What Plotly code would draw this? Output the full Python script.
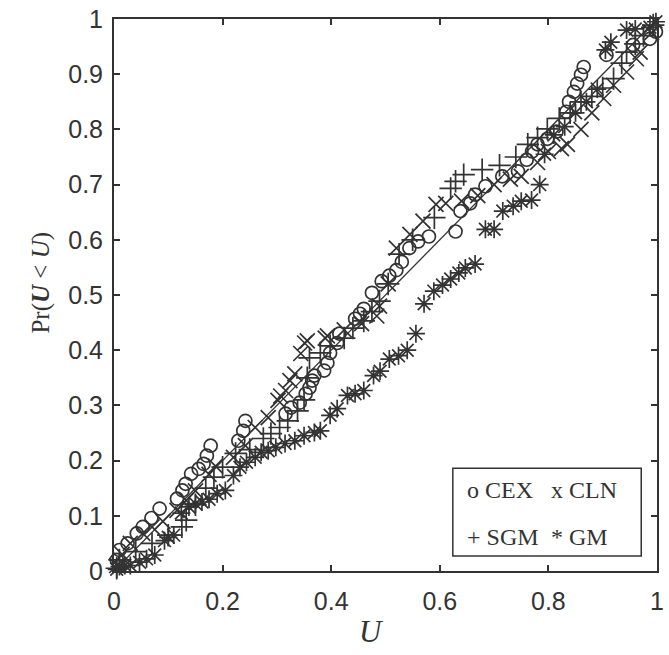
import plotly.graph_objects as go

# CEX (circles)
cex_x = [0.005, 0.01, 0.025, 0.042, 0.053, 0.069, 0.084, 0.116, 0.126, 0.132, 0.142, 0.156, 0.165, 0.171, 0.178,
         0.229, 0.238, 0.242, 0.316, 0.326, 0.342, 0.353, 0.36, 0.365, 0.369, 0.387, 0.393, 0.398, 0.411, 0.415,
         0.444, 0.453, 0.46, 0.475, 0.493, 0.507, 0.52, 0.53, 0.544, 0.56, 0.58, 0.629, 0.638, 0.656, 0.665, 0.684,
         0.715, 0.744, 0.76, 0.77, 0.78, 0.798, 0.815, 0.833, 0.838, 0.847, 0.853, 0.86, 0.865, 0.907, 0.956, 0.987, 0.998]
cex_y = [0.02, 0.038, 0.05, 0.068, 0.08, 0.096, 0.113, 0.131, 0.146, 0.158, 0.176, 0.185, 0.194, 0.209, 0.227,
         0.236, 0.254, 0.272, 0.285, 0.296, 0.305, 0.321, 0.332, 0.345, 0.354, 0.363, 0.377, 0.395, 0.413, 0.43,
         0.457, 0.466, 0.475, 0.504, 0.525, 0.535, 0.545, 0.56, 0.585, 0.597, 0.606, 0.615, 0.652, 0.666, 0.682, 0.697,
         0.715, 0.724, 0.745, 0.76, 0.773, 0.783, 0.796, 0.832, 0.85, 0.868, 0.883, 0.899, 0.913, 0.935, 0.953, 0.964, 0.977]

# CLN (x)
cln_x = [0.005, 0.015, 0.03, 0.053, 0.07, 0.09, 0.116, 0.133, 0.15, 0.175, 0.187, 0.22, 0.242, 0.26, 0.284, 0.302,
         0.307, 0.316, 0.324, 0.333, 0.344, 0.351, 0.356, 0.389, 0.393, 0.424, 0.456, 0.484, 0.489, 0.505, 0.52,
         0.545, 0.569, 0.593, 0.611, 0.64, 0.67, 0.70, 0.73, 0.75, 0.78, 0.80, 0.824, 0.835, 0.86, 0.88, 0.902,
         0.92, 0.944, 0.962, 0.969, 0.99]
cln_y = [0.01, 0.03, 0.05, 0.068, 0.08, 0.09, 0.11, 0.128, 0.145, 0.175, 0.19, 0.206, 0.227, 0.26, 0.278, 0.309,
         0.317, 0.327, 0.345, 0.357, 0.394, 0.413, 0.417, 0.422, 0.426, 0.437, 0.448, 0.462, 0.48, 0.52, 0.585,
         0.61, 0.634, 0.664, 0.666, 0.67, 0.68, 0.70, 0.71, 0.715, 0.74, 0.76, 0.765, 0.773, 0.80, 0.83, 0.856,
         0.88, 0.904, 0.928, 0.94, 0.975]

# SGM (+)
sgm_x = [0.005, 0.01, 0.04, 0.07, 0.1, 0.125, 0.133, 0.15, 0.169, 0.184, 0.2, 0.224, 0.25, 0.275, 0.289, 0.305,
         0.32, 0.338, 0.35, 0.356, 0.36, 0.38, 0.398, 0.424, 0.44, 0.46, 0.475, 0.489, 0.505, 0.525, 0.55, 0.59,
         0.62, 0.629, 0.644, 0.678, 0.71, 0.74, 0.762, 0.78, 0.798, 0.82, 0.84, 0.86, 0.88, 0.9, 0.92, 0.935,
         0.944, 0.96, 0.975, 0.993]
sgm_y = [0.005, 0.02, 0.035, 0.05, 0.065, 0.08, 0.092, 0.12, 0.15, 0.17, 0.188, 0.213, 0.22, 0.24, 0.249, 0.26,
         0.272, 0.29, 0.31, 0.35, 0.386, 0.395, 0.408, 0.422, 0.44, 0.453, 0.47, 0.489, 0.52, 0.574, 0.6, 0.64,
         0.693, 0.706, 0.718, 0.727, 0.735, 0.75, 0.773, 0.785, 0.801, 0.82, 0.83, 0.85, 0.86, 0.875, 0.892, 0.92,
         0.94, 0.955, 0.97, 0.989]

# GM (*)
gm_x = [0.005, 0.01, 0.02, 0.03, 0.047, 0.06, 0.075, 0.093, 0.1, 0.11, 0.124, 0.138, 0.15, 0.162, 0.175, 0.19,
        0.205, 0.22, 0.232, 0.244, 0.26, 0.271, 0.284, 0.298, 0.315, 0.333, 0.35, 0.369, 0.38, 0.398, 0.411, 0.43,
        0.444, 0.46, 0.478, 0.49, 0.507, 0.524, 0.54, 0.556, 0.571, 0.589, 0.605, 0.62, 0.635, 0.647, 0.665, 0.684,
        0.70, 0.716, 0.735, 0.75, 0.769, 0.784, 0.793, 0.81, 0.83, 0.85, 0.87, 0.89, 0.905, 0.915, 0.944, 0.96,
        0.987, 0.998]
gm_y = [0.003, 0.008, 0.01, 0.01, 0.016, 0.022, 0.029, 0.055, 0.061, 0.065, 0.105, 0.116, 0.122, 0.125, 0.13, 0.14,
        0.146, 0.173, 0.188, 0.197, 0.206, 0.215, 0.218, 0.224, 0.231, 0.236, 0.245, 0.251, 0.254, 0.282, 0.294, 0.318,
        0.321, 0.327, 0.354, 0.362, 0.384, 0.39, 0.40, 0.43, 0.484, 0.507, 0.518, 0.529, 0.54, 0.549, 0.556, 0.619,
        0.619, 0.652, 0.661, 0.67, 0.672, 0.70, 0.755, 0.79, 0.805, 0.83, 0.85, 0.873, 0.944, 0.958, 0.98, 0.982,
        0.985, 0.995]

ref_line = [0, 1]
x_ticks = [0, 0.2, 0.4, 0.6, 0.8, 1]
x_tick_text = ["0", "0.2", "0.4", "0.6", "0.8", "1"]
y_ticks = [0, 0.1, 0.2, 0.3, 0.4, 0.5, 0.6, 0.7, 0.8, 0.9, 1]
y_tick_text = ["0", "0.1", "0.2", "0.3", "0.4", "0.5", "0.6", "0.7", "0.8", "0.9", "1"]
legend_rows = [["o CEX", "x CLN"], ["+ SGM", "* GM"]]

INK = "#333333"
SERIF = "Liberation Serif, Times New Roman, serif"

fig = go.Figure()
fig.add_trace(go.Scatter(x=ref_line, y=ref_line, mode="lines", line=dict(color=INK, width=1.3),
                         showlegend=False, cliponaxis=False))

def add_series(xs, ys, symbol, size, name):
    fig.add_trace(go.Scatter(
        x=xs, y=ys, mode="markers", name=name, showlegend=False, cliponaxis=False,
        marker=dict(symbol=symbol, size=size, color=INK, line=dict(color=INK, width=1.7)),
    ))

add_series(cex_x, cex_y, "circle-open", 13, "CEX")
add_series(cln_x, cln_y, "x-thin-open", 15, "CLN")
add_series(sgm_x, sgm_y, "cross-thin-open", 16, "SGM")
add_series(gm_x, gm_y, "asterisk-open", 15, "GM")

axis_common = dict(
    range=[0, 1], showgrid=False, zeroline=False, showline=True, linecolor=INK, linewidth=2,
    mirror="ticks", ticks="inside", ticklen=6, tickwidth=1.5, tickcolor=INK,
    tickfont=dict(family="Liberation Sans, Arial, sans-serif", size=25, color=INK),
)

fig.update_layout(
    width=669, height=655,
    margin=dict(l=114, r=5, t=17, b=84),
    paper_bgcolor="white", plot_bgcolor="white",
    xaxis=dict(**axis_common, tickvals=x_ticks, ticktext=x_tick_text, ticklabelstandoff=7),
    yaxis=dict(**axis_common, tickvals=y_ticks, ticktext=y_tick_text, ticklabelstandoff=4),
    showlegend=False,
)

# axis titles
fig.add_annotation(xref="paper", yref="paper", x=0.475, y=-0.11, xanchor="center", yanchor="middle",
                   text="<i>U</i>", showarrow=False, font=dict(family=SERIF, size=31, color=INK))
fig.add_annotation(xref="paper", yref="paper", x=-0.135, y=0.522, xanchor="center", yanchor="middle",
                   text="Pr(<b><i>U</i></b> &lt; <i>U</i>)", textangle=-90, showarrow=False,
                   font=dict(family=SERIF, size=25, color=INK))

# legend box
fig.add_shape(type="rect", xref="paper", yref="paper", x0=0.624, x1=0.971, y0=0.027, y1=0.186,
              line=dict(color=INK, width=1.5), fillcolor="white", layer="above")
row_y = [0.146, 0.062]
col_x = [0.647, 0.801]
for r, row in enumerate(legend_rows):
    for c, txt in enumerate(row):
        fig.add_annotation(xref="paper", yref="paper", x=col_x[c], y=row_y[r], xanchor="left",
                           yanchor="middle", text=txt, showarrow=False,
                           font=dict(family=SERIF, size=24, color=INK))

fig.write_html("out.html")
